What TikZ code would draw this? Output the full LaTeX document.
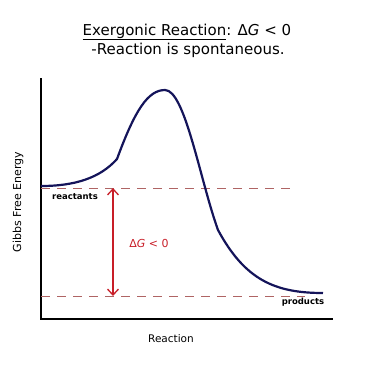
\documentclass[tikz,border=0pt]{standalone}
\usepackage{fontspec}
\setmainfont{DejaVu Sans}
\usetikzlibrary{arrows.meta,positioning}
\definecolor{curveblue}{RGB}{20,20,90}
\definecolor{dashred}{RGB}{175,100,100}
\definecolor{arrowred}{RGB}{200,30,40}

\begin{document}
\begin{tikzpicture}[x=1pt,y=-1pt,
			axis/.style={black,line width=1.6pt},
			level/.style={dashred,dash pattern=on 9pt off 7pt,line width=0.9pt},
			lbl/.style={inner sep=0pt,font=\fontsize{8.5}{10}\selectfont\bfseries}]
		\useasboundingbox (0,0) rectangle (376,370);
		\path 	(187,32) 	node 	(title) [font=\fontsize{15}{18}\selectfont] {\underline{Exergonic Reaction}: Δ\textit{G} < 0}
		        (188,50) 	node 	(sub) [font=\fontsize{15}{18}\selectfont] {-Reaction is spontaneous.}
		        (41,78) 	coordinate 	(ytop)
		        (41,319) 	coordinate 	(orig)
		        (333,319) 	coordinate 	(xend)
		        (41,188) 	coordinate 	(r0)
		        (297,188) 	coordinate 	(r1)
		        (41,296) 	coordinate 	(p0)
		        (305,296) 	coordinate 	(p1)
		        (113,188) 	coordinate 	(gtop)
		        (113,296) 	coordinate 	(gbot);
		\path 	(75,197) 	node 	(react) [lbl] {reactants}
		        (303,302) 	node 	(prod) [lbl] {products}
		        (149,243) 	node 	(dg) [inner sep=0pt,text=arrowred,font=\fontsize{11}{13}\selectfont] {Δ\textit{G} < 0}
		        (171,339) 	node 	(xlab) [font=\fontsize{10.5}{12}\selectfont] {Reaction}
		        (18,202) 	node 	(ylab) [rotate=90,font=\fontsize{11}{13}\selectfont] {Gibbs Free Energy};
		\draw [axis] (ytop) -- (orig) -- (xend);
		\draw [level] (r0) -- (r1);
		\draw [level] (p0) -- (p1);
		\draw [arrowred,line width=1.3pt,{Straight Barb[length=6pt,width=11pt]}-{Straight Barb[length=6pt,width=11pt]}] (gtop) -- (gbot);
		\draw [curveblue,line width=2.2pt] (41,186) .. controls (75,186) and (100,178) .. (117,159)
			.. controls (135,110) and (148,90) .. (165,90)
			.. controls (185,90) and (200,180) .. (218,230)
			.. controls (245,280) and (275,293) .. (323,293);
	\end{tikzpicture}
\end{document}
